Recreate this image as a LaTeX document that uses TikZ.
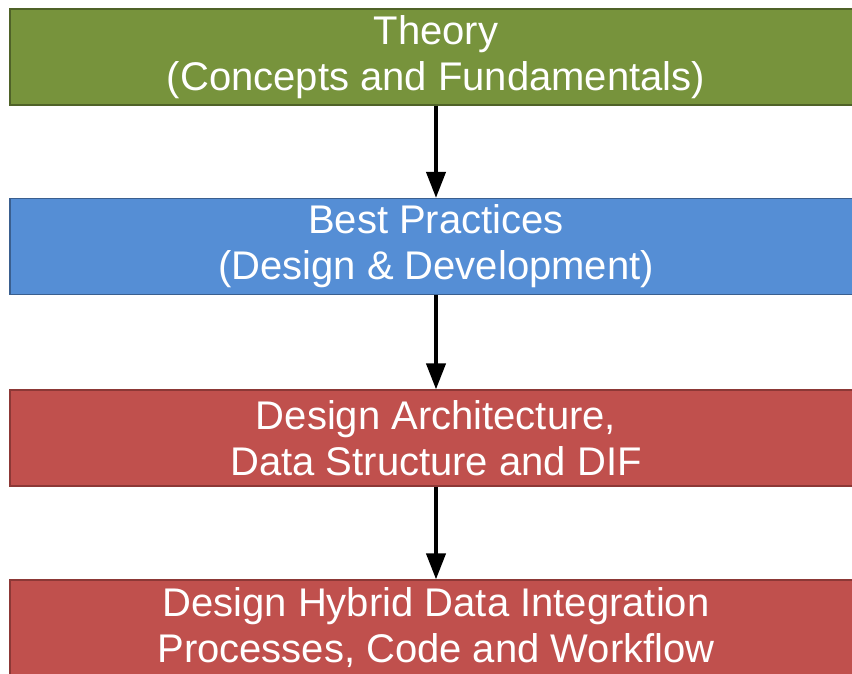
\documentclass[tikz,border=0pt]{standalone}
\usepackage{fontspec}
\setmainfont{Liberation Sans}
\usetikzlibrary{arrows.meta}

\definecolor{theorygreen}{HTML}{77933C}
\definecolor{theoryline}{HTML}{4F6228}
\definecolor{practiceblue}{HTML}{558ED5}
\definecolor{practiceline}{HTML}{3A5F8F}
\definecolor{designred}{HTML}{C0504D}
\definecolor{designline}{HTML}{8C3836}

\tikzset{
  stage/.style={shape=rectangle, draw, line width=1.2pt, inner sep=0pt,
    minimum width=852pt, minimum height=96pt, align=center,
    text=white, font=\fontsize{40}{46}\selectfont},
  flow/.style={draw=black, line width=4pt, -{Triangle[length=26pt,width=19pt]}}
}

\begin{document}
\begin{tikzpicture}[x=1pt,y=1pt]
\useasboundingbox (0,0) rectangle (852,-673);
\node[stage,fill=theorygreen,draw=theoryline] (T) at (436,-57) {Theory\\(Concepts and Fundamentals)};
\node[stage,fill=practiceblue,draw=practiceline] (P) at (436,-246.5) {Best Practices\\(Design \& Development)};
\node[stage,fill=designred,draw=designline] (A) at (436,-438) {Design Architecture,\\Data Structure and DIF};
\node[stage,fill=designred,draw=designline] (H) at (436,-628) {Design Hybrid Data Integration\\Processes, Code and Workflow};
\path (T) edge[flow] (P);
\path (P) edge[flow] (A);
\path (A) edge[flow] (H);
\end{tikzpicture}
\end{document}
